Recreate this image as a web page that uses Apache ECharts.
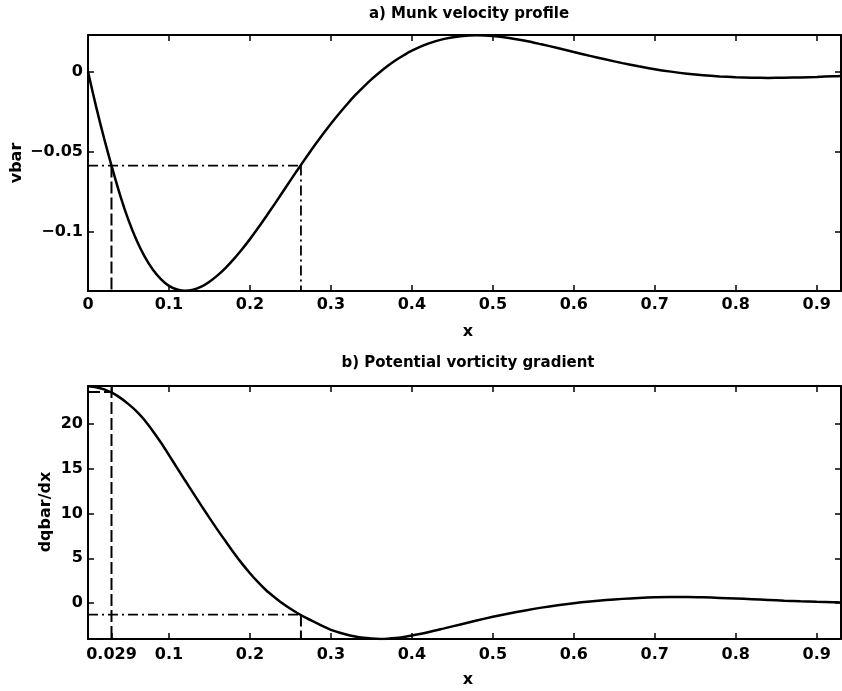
<!DOCTYPE html>
<html>
<head>
<meta charset="utf-8">
<script src="https://cdn.jsdelivr.net/npm/echarts@6/dist/echarts.min.js"></script>
<style>html,body{margin:0;padding:0;background:#fff;}#c{width:842px;height:691px;}</style>
</head>
<body>
<div id="c"></div>
<script>
// ---- data ----
var xGrid = [0,0.01,0.02,0.03,0.04,0.05,0.06,0.07,0.08,0.09,0.10,0.11,0.12,0.13,0.14,0.15,0.16,0.17,0.18,0.19,0.20,
  0.21,0.22,0.23,0.24,0.25,0.26,0.27,0.28,0.29,0.30,0.31,0.32,0.33,0.34,0.35,0.36,0.37,0.38,0.39,0.40,
  0.42,0.44,0.46,0.48,0.50,0.52,0.54,0.56,0.58,0.60,0.62,0.64,0.66,0.68,0.70,0.72,0.74,0.76,0.78,0.80,
  0.82,0.84,0.86,0.88,0.90,0.92,0.93];
var vbar = [0,-0.0218,-0.0418,-0.0603,-0.0775,-0.0925,-0.1050,-0.1152,-0.1232,-0.1292,-0.1334,-0.1357,-0.1365,-0.1358,-0.1339,-0.1308,-0.1269,-0.1222,-0.1168,-0.1108,-0.1043,
  -0.0974,-0.0902,-0.0828,-0.0753,-0.0677,-0.0603,-0.0530,-0.0459,-0.0390,-0.0324,-0.0262,-0.0203,-0.0147,-0.0096,-0.0048,-0.0005,0.0035,0.0071,0.0102,0.0130,
  0.0174,0.0204,0.0220,0.0226,0.0222,0.0210,0.0192,0.0170,0.0147,0.0122,0.0098,0.0075,0.0053,0.0033,0.0015,0.0000,-0.0013,-0.0023,-0.0030,-0.0035,
  -0.0038,-0.0039,-0.0038,-0.0036,-0.0033,-0.0029,-0.0027];
var dqbar = [24.25,24.15,23.9,23.5,22.95,22.25,21.45,20.45,19.25,17.95,16.55,15.12,13.7,12.3,10.9,9.52,8.18,6.9,5.63,4.43,3.33,
  2.33,1.43,0.67,-0.04,-0.65,-1.2,-1.7,-2.15,-2.6,-3.0,-3.3,-3.56,-3.76,-3.9,-3.98,-4.02,-4.0,-3.93,-3.8,-3.64,
  -3.27,-2.84,-2.4,-1.96,-1.55,-1.17,-0.83,-0.52,-0.25,-0.02,0.17,0.33,0.46,0.56,0.63,0.66,0.66,0.63,0.57,0.5,
  0.42,0.34,0.26,0.19,0.13,0.08,0.06];
var markX = [0.029, 0.263];          // marked x positions
var markV = -0.0585;                 // vbar level of the marks
var markQ = [23.6, -1.3];            // dqbar/dx levels at the marks
var xRange = [0, 0.93];
var vRange = [-0.1366, 0.0228];
var qRange = [-4.03, 24.28];
var topXTicks = [0,0.1,0.2,0.3,0.4,0.5,0.6,0.7,0.8,0.9];
var botXTicks = [0.029,0.1,0.2,0.3,0.4,0.5,0.6,0.7,0.8,0.9];
var vTicks = [-0.1,-0.05,0];
var qTicks = [0,5,10,15,20];
var titles = ['a) Munk velocity profile','b) Potential vorticity gradient'];
var names = {x:'x', v:'vbar', q:'dqbar/dx'};

// ---- chart ----
var FONT = 'DejaVu Sans';
function fmt(v){ var s = String(v); return s.charAt(0)==='-' ? '\u2212'+s.slice(1) : s; }
function pairs(xs, ys){ return xs.map(function(x,i){ return [x, ys[i]]; }); }
var dashed = [12,4], dashdot = [10,4,2,4];

function xAx(grid, pos, ticks, labels, margin){
  return {type:'value', gridIndex:grid, position:pos, min:xRange[0], max:xRange[1],
    axisLine:{show:true, onZero:false, lineStyle:{color:'#000', width:2}},
    axisTick:{show:true, inside:true, length:6, customValues:ticks, lineStyle:{color:'#000', width:1.5}},
    axisLabel:{show:labels, customValues:ticks, formatter:fmt, margin:margin, color:'#000', fontFamily:FONT, fontWeight:'bold', fontSize:16},
    splitLine:{show:false}};
}
function yAx(grid, pos, range, ticks, labels){
  return {type:'value', gridIndex:grid, position:pos, min:range[0], max:range[1],
    axisLine:{show:true, onZero:false, lineStyle:{color:'#000', width:2}},
    axisTick:{show:true, inside:true, length:6, customValues:ticks, lineStyle:{color:'#000', width:1.5}},
    axisLabel:{show:labels, customValues:ticks, formatter:fmt, margin:5, color:'#000', fontFamily:FONT, fontWeight:'bold', fontSize:16},
    splitLine:{show:false}};
}
function seg(xi, yi, data, type, w){
  return {type:'line', xAxisIndex:xi, yAxisIndex:yi, data:data, symbol:'none', silent:true,
    lineStyle:{color:'#000', width:w, type:type}, animation:false};
}

var chart = echarts.init(document.getElementById('c'), null, {renderer:'canvas'});
chart.setOption({
  backgroundColor:'#fff',
  animation:false,
  grid:[{left:88, top:35, width:753, height:256}, {left:88, top:386, width:753, height:253}],
  xAxis:[xAx(0,'bottom',topXTicks,true,6), xAx(0,'top',topXTicks,false,6),
         xAx(1,'bottom',botXTicks,true,8), xAx(1,'top',botXTicks,false,8)],
  yAxis:[yAx(0,'left',vRange,vTicks,true), yAx(0,'right',vRange,vTicks,false),
         yAx(1,'left',qRange,qTicks,true), yAx(1,'right',qRange,qTicks,false)],
  series:[
    {type:'line', xAxisIndex:0, yAxisIndex:0, data:pairs(xGrid, vbar), symbol:'none', smooth:0.3,
      lineStyle:{color:'#000', width:2.5}, animation:false},
    seg(0,0,[[xRange[0],markV],[markX[1],markV]], dashdot, 1.8),
    seg(0,0,[[markX[0],markV],[markX[0],vRange[0]]], dashed, 2),
    seg(0,0,[[markX[1],markV],[markX[1],vRange[0]]], dashdot, 1.8),
    {type:'line', xAxisIndex:2, yAxisIndex:2, data:pairs(xGrid, dqbar), symbol:'none', smooth:0.3,
      lineStyle:{color:'#000', width:2.5}, animation:false},
    seg(2,2,[[markX[0],qRange[1]],[markX[0],qRange[0]]], dashed, 2),
    seg(2,2,[[xRange[0],markQ[0]],[markX[0],markQ[0]]], dashed, 2),
    seg(2,2,[[xRange[0],markQ[1]],[markX[1],markQ[1]]], dashdot, 1.8),
    seg(2,2,[[markX[1],markQ[1]],[markX[1],qRange[0]]], dashed, 2)
  ],
  graphic:[
    {type:'text', style:{text:titles[0], x:469, y:14, align:'center', verticalAlign:'middle', fill:'#000', font:'bold 15px "'+FONT+'"'}},
    {type:'text', style:{text:titles[1], x:468, y:363, align:'center', verticalAlign:'middle', fill:'#000', font:'bold 15px "'+FONT+'"'}},
    {type:'text', style:{text:names.x, x:468, y:332, align:'center', verticalAlign:'middle', fill:'#000', font:'bold 16px "'+FONT+'"'}},
    {type:'text', style:{text:names.x, x:468, y:680, align:'center', verticalAlign:'middle', fill:'#000', font:'bold 16px "'+FONT+'"'}},
    {type:'text', x:17, y:163, rotation:Math.PI/2, style:{text:names.v, x:0, y:0, align:'center', verticalAlign:'middle', fill:'#000', font:'bold 16px "'+FONT+'"'}},
    {type:'text', x:46, y:512, rotation:Math.PI/2, style:{text:names.q, x:0, y:0, align:'center', verticalAlign:'middle', fill:'#000', font:'bold 16px "'+FONT+'"'}}
  ]
});
</script>
</body>
</html>
